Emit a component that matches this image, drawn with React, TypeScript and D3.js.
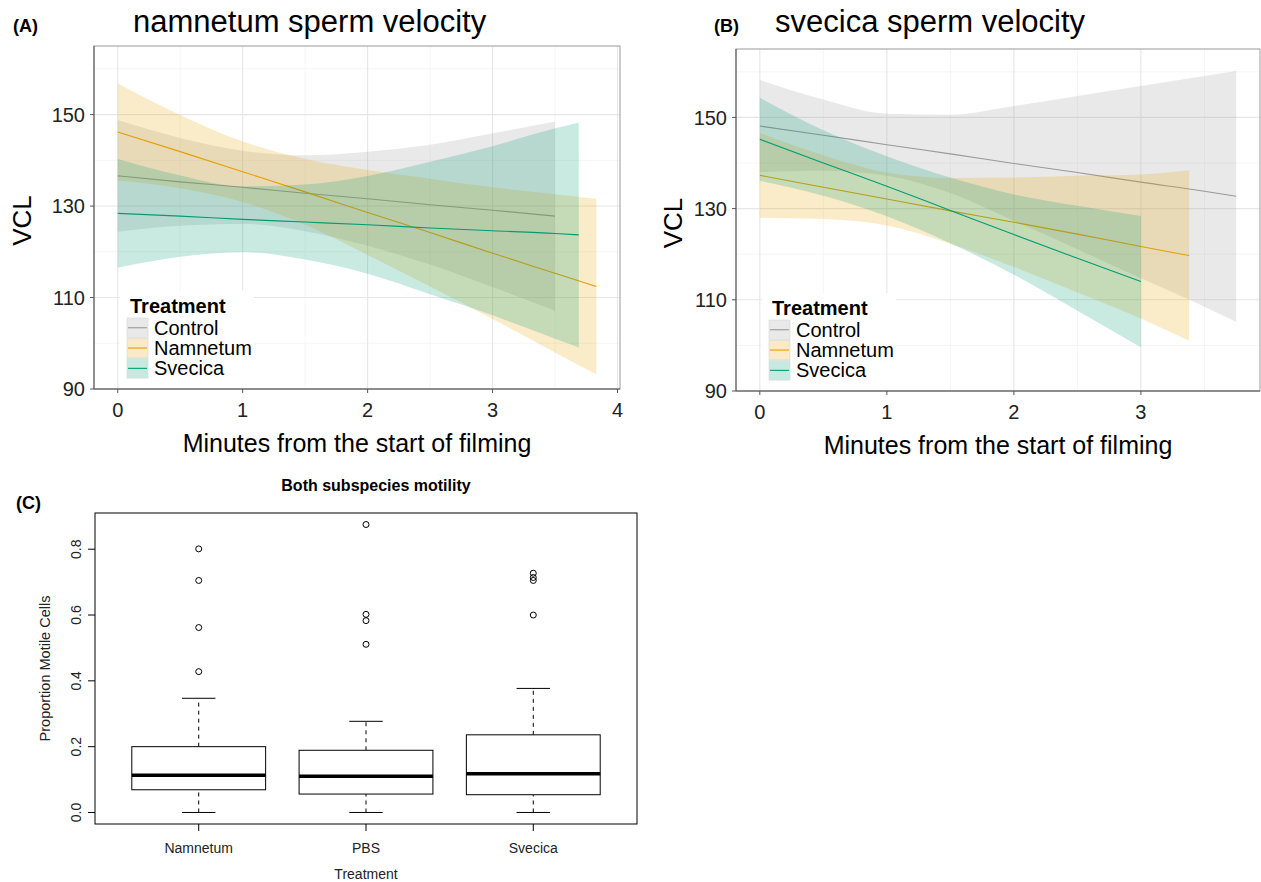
import React from 'react';
import * as d3 from 'd3';

const treatments = ['Control', 'Namnetum', 'Svecica'];
const treatmentColours = ['#999999', '#E69F00', '#009E73'];

// (A) namnetum sperm velocity - fitted VCL and CI band
const minutesA_control = [0, 0.5, 1, 1.5, 2, 2.5, 3, 3.5];
const fitA_control = [136.6, 135.3, 134.1, 132.8, 131.6, 130.3, 129.1, 127.8];
const lowA_control = [124.4, 125.7, 126.1, 124.5, 121.3, 117.2, 112.3, 107.1];
const highA_control = [148.8, 144.9, 142.1, 141.1, 141.9, 143.4, 145.9, 148.5];

const minutesA_namnetum = [0, 0.5, 1, 1.5, 2, 2.5, 3, 3.5, 3.83];
const fitA_namnetum = [146.2, 141.9, 137.5, 133.1, 128.6, 124.2, 119.7, 115.3, 112.4];
const lowA_namnetum = [135.6, 133.9, 130.9, 125.9, 119.3, 112.4, 105.3, 98.0, 93.2];
const highA_namnetum = [156.8, 149.9, 144.1, 140.3, 137.9, 136.0, 134.1, 132.6, 131.6];

const minutesA_svecica = [0, 0.5, 1, 1.5, 2, 2.5, 3, 3.5, 3.69];
const fitA_svecica = [128.4, 127.8, 127.1, 126.5, 125.9, 125.2, 124.6, 124.0, 123.7];
const lowA_svecica = [116.5, 118.9, 119.9, 118.3, 115.2, 110.7, 106.1, 101.0, 99.1];
const highA_svecica = [140.3, 136.7, 134.3, 134.7, 136.6, 139.7, 143.1, 147.0, 148.3];

// (B) svecica sperm velocity
const minutesB_control = [0, 0.5, 1, 1.5, 2, 2.5, 3, 3.5, 3.75];
const fitB_control = [148.1, 146.1, 144.0, 142.0, 139.9, 137.9, 135.8, 133.8, 132.7];
const lowB_control = [138.0, 138.3, 137.2, 133.4, 127.3, 121.1, 114.7, 108.5, 105.2];
const highB_control = [158.2, 153.9, 150.8, 150.6, 152.5, 154.7, 156.9, 159.1, 160.2];

const minutesB_namnetum = [0, 0.5, 1, 1.5, 2, 2.5, 3, 3.38];
const fitB_namnetum = [137.3, 134.7, 132.1, 129.5, 127.0, 124.4, 121.7, 119.7];
const lowB_namnetum = [128.0, 127.7, 126.3, 122.3, 117.2, 111.6, 105.9, 101.0];
const highB_namnetum = [146.6, 141.7, 137.9, 136.7, 136.8, 137.2, 137.5, 138.4];

const minutesB_svecica = [0, 0.5, 1, 1.5, 2, 2.5, 3];
const fitB_svecica = [145.2, 140.0, 134.9, 129.6, 124.3, 119.1, 114.0];
const lowB_svecica = [136.1, 132.8, 128.3, 122.4, 115.5, 107.6, 99.6];
const highB_svecica = [154.3, 147.2, 141.5, 136.8, 133.1, 130.6, 128.4];

const vclMajorTicks = [90, 110, 130, 150];
const vclMinorTicks = [100, 120, 140, 160];

// (C) boxplot stats
const motilityGroups = ['Namnetum', 'PBS', 'Svecica'];
const motilityLowerWhisker = [0, 0, 0];
const motilityQ1 = [0.069, 0.056, 0.054];
const motilityMedian = [0.113, 0.11, 0.118];
const motilityQ3 = [0.2, 0.189, 0.236];
const motilityUpperWhisker = [0.347, 0.277, 0.377];
const motilityOutliers = [
  [0.801, 0.705, 0.562, 0.428],
  [0.875, 0.602, 0.583, 0.511],
  [0.727, 0.714, 0.705, 0.6],
];
const motilityTicks = [0, 0.2, 0.4, 0.6, 0.8];

type Band = { name: string; colour: string; x: number[]; fit: number[]; low: number[]; high: number[] };

const bandsA: Band[] = [
  { name: treatments[0], colour: treatmentColours[0], x: minutesA_control, fit: fitA_control, low: lowA_control, high: highA_control },
  { name: treatments[1], colour: treatmentColours[1], x: minutesA_namnetum, fit: fitA_namnetum, low: lowA_namnetum, high: highA_namnetum },
  { name: treatments[2], colour: treatmentColours[2], x: minutesA_svecica, fit: fitA_svecica, low: lowA_svecica, high: highA_svecica },
];
const bandsB: Band[] = [
  { name: treatments[0], colour: treatmentColours[0], x: minutesB_control, fit: fitB_control, low: lowB_control, high: highB_control },
  { name: treatments[1], colour: treatmentColours[1], x: minutesB_namnetum, fit: fitB_namnetum, low: lowB_namnetum, high: highB_namnetum },
  { name: treatments[2], colour: treatmentColours[2], x: minutesB_svecica, fit: fitB_svecica, low: lowB_svecica, high: highB_svecica },
];

const FONT = '"Liberation Sans", Arial, Helvetica, sans-serif';

const VelocityPanel = ({ tag, tagX, title, titleX, bands, left, right, top, bottom, xDomain, xTicks, vclX }: any) => {
  const x = d3.scaleLinear().domain(xDomain).range([left, right]);
  const y = d3.scaleLinear().domain([90, 165]).range([bottom, top]);
  const minorX = d3.range(0.5, xDomain[1], 1);

  const area = d3.area<number>().curve(d3.curveMonotoneX);
  const line = d3.line<[number, number]>().curve(d3.curveMonotoneX);

  const legL = left + 26;
  const legTop = bottom - 98;

  return (
    <g fontFamily={FONT}>
      <text x={tagX} y={32} fontSize={18} fontWeight="bold">{tag}</text>
      <text x={titleX} y={32} fontSize={31}>{title}</text>

      {/* grid */}
      {vclMinorTicks.map(t => (
        <line key={'ym' + t} x1={left} x2={right} y1={y(t)} y2={y(t)} stroke="#f3f3f3" strokeWidth={0.8} />
      ))}
      {minorX.map(t => (
        <line key={'xm' + t} x1={x(t)} x2={x(t)} y1={top} y2={bottom} stroke="#f3f3f3" strokeWidth={0.8} />
      ))}
      {vclMajorTicks.map(t => (
        <line key={'yM' + t} x1={left} x2={right} y1={y(t)} y2={y(t)} stroke="#e6e6e6" strokeWidth={1.1} />
      ))}
      {xTicks.map((t: number) => (
        <line key={'xM' + t} x1={x(t)} x2={x(t)} y1={top} y2={bottom} stroke="#e6e6e6" strokeWidth={1.1} />
      ))}

      {/* ribbons + fitted lines */}
      {bands.map((b: Band) => {
        const idx = d3.range(b.x.length);
        const ribbon = area
          .x(i => x(b.x[i]))
          .y0(i => y(b.low[i]))
          .y1(i => y(b.high[i]))(idx);
        const fit = line(idx.map(i => [x(b.x[i]), y(b.fit[i])]));
        return (
          <g key={b.name}>
            <path d={ribbon || ''} fill={b.colour} fillOpacity={0.21} stroke="none" />
            <path d={fit || ''} fill="none" stroke={b.colour} strokeWidth={1.1} />
          </g>
        );
      })}

      {/* panel border */}
      <rect x={left} y={top} width={right - left} height={bottom - top} fill="none" stroke="#9a9a9a" strokeWidth={1} />
      <line x1={left} x2={left} y1={top} y2={bottom} stroke="#555" strokeWidth={1} />
      <line x1={left} x2={right} y1={bottom} y2={bottom} stroke="#555" strokeWidth={1} />

      {/* axes */}
      {vclMajorTicks.map(t => (
        <g key={'yt' + t}>
          <line x1={left - 4} x2={left} y1={y(t)} y2={y(t)} stroke="#555" />
          <text x={left - 9} y={y(t)} dy="0.36em" textAnchor="end" fontSize={20} fill="#222">{t}</text>
        </g>
      ))}
      {xTicks.map((t: number) => (
        <g key={'xt' + t}>
          <line x1={x(t)} x2={x(t)} y1={bottom} y2={bottom + 4} stroke="#555" />
          <text x={x(t)} y={bottom + 21} dy="0.36em" textAnchor="middle" fontSize={20} fill="#222">{t}</text>
        </g>
      ))}
      <text x={(left + right) / 2} y={bottom + 54} dy="0.36em" textAnchor="middle" fontSize={25}>Minutes from the start of filming</text>
      <text transform={`translate(${vclX},${(top + bottom) / 2 + 3}) rotate(-90)`} textAnchor="middle" dy="0.36em" fontSize={26}>VCL</text>

      {/* legend */}
      <rect x={legL} y={legTop} width={134} height={bottom - legTop - 1} fill="white" />
      <text x={legL + 10} y={legTop + 22} fontSize={20} fontWeight="bold">Treatment</text>
      {bands.map((b: Band, i: number) => {
        const ky = legTop + 27 + i * 20.3;
        return (
          <g key={'lg' + b.name}>
            <rect x={legL + 7} y={ky} width={21} height={19.5} fill={b.colour} fillOpacity={0.22} stroke="#d8d8d8" strokeWidth={0.6} />
            <line x1={legL + 8} x2={legL + 27} y1={ky + 9.75} y2={ky + 9.75} stroke={b.colour} strokeWidth={1.1} />
            <text x={legL + 34} y={ky + 9.75} dy="0.35em" fontSize={20}>{b.name}</text>
          </g>
        );
      })}
    </g>
  );
};

const MotilityBoxplot = () => {
  const left = 95, right = 637, top = 513, bottom = 824;
  const x = d3.scaleLinear().domain([0.38, 3.62]).range([left, right]);
  const allVals = motilityLowerWhisker.concat(motilityUpperWhisker, ...motilityOutliers);
  const [lo, hi] = d3.extent(allVals) as [number, number];
  const pad = (hi - lo) * 0.04;
  const y = d3.scaleLinear().domain([lo - pad, hi + pad]).range([bottom, top]);
  const boxW = x(1.4) - x(1);
  const capW = boxW / 2;

  return (
    <g fontFamily={FONT}>
      <text x={16} y={509} fontSize={18} fontWeight="bold">(C)</text>
      <text x={376} y={491} textAnchor="middle" fontSize={16} fontWeight="bold">Both subspecies motility</text>

      {motilityGroups.map((g, i) => {
        const cx = x(i + 1);
        return (
          <g key={g} stroke="#000" fill="none">
            <line x1={cx} x2={cx} y1={y(motilityQ3[i])} y2={y(motilityUpperWhisker[i])} strokeDasharray="4,4" strokeWidth={1} />
            <line x1={cx} x2={cx} y1={y(motilityLowerWhisker[i])} y2={y(motilityQ1[i])} strokeDasharray="4,4" strokeWidth={1} />
            <line x1={cx - capW / 2} x2={cx + capW / 2} y1={y(motilityUpperWhisker[i])} y2={y(motilityUpperWhisker[i])} strokeWidth={1} />
            <line x1={cx - capW / 2} x2={cx + capW / 2} y1={y(motilityLowerWhisker[i])} y2={y(motilityLowerWhisker[i])} strokeWidth={1} />
            <rect x={cx - boxW} y={y(motilityQ3[i])} width={boxW * 2} height={y(motilityQ1[i]) - y(motilityQ3[i])} fill="white" strokeWidth={1} />
            <line x1={cx - boxW} x2={cx + boxW} y1={y(motilityMedian[i])} y2={y(motilityMedian[i])} strokeWidth={3.5} />
            {motilityOutliers[i].map((v, j) => (
              <circle key={j} cx={cx} cy={y(v)} r={3} strokeWidth={1} />
            ))}
          </g>
        );
      })}

      <rect x={left} y={top} width={right - left} height={bottom - top} fill="none" stroke="#000" strokeWidth={1} />

      {motilityTicks.map(t => (
        <g key={'ct' + t}>
          <line x1={left - 7} x2={left} y1={y(t)} y2={y(t)} stroke="#000" />
          <text transform={`translate(${left - 19},${y(t)}) rotate(-90)`} textAnchor="middle" dy="0.36em" fontSize={14} fill="#222">{t.toFixed(1)}</text>
        </g>
      ))}
      {motilityGroups.map((g, i) => (
        <g key={'cx' + g}>
          <line x1={x(i + 1)} x2={x(i + 1)} y1={bottom} y2={bottom + 7} stroke="#000" />
          <text x={x(i + 1)} y={848} dy="0.36em" textAnchor="middle" fontSize={14} fill="#222">{g}</text>
        </g>
      ))}
      <text x={(left + right) / 2} y={874} dy="0.36em" textAnchor="middle" fontSize={14} fill="#222">Treatment</text>
      <text transform={`translate(45,${(top + bottom) / 2}) rotate(-90)`} textAnchor="middle" dy="0.36em" fontSize={14.5} fill="#222">Proportion Motile Cells</text>
    </g>
  );
};

export default function App() {
  return (
    <svg width={1261} height={882} style={{ position: 'absolute', left: 0, top: 0, background: 'white' }}>
      <rect width={1261} height={882} fill="white" />
      <VelocityPanel
        tag="(A)" tagX={13} title="namnetum sperm velocity" titleX={133}
        bands={bandsA} left={94} right={620} top={46} bottom={389}
        xDomain={[-0.19, 4.02]} xTicks={[0, 1, 2, 3, 4]} vclX={22}
      />
      <VelocityPanel
        tag="(B)" tagX={714} title="svecica sperm velocity" titleX={775}
        bands={bandsB} left={736} right={1260} top={49} bottom={391}
        xDomain={[-0.1875, 3.9375]} xTicks={[0, 1, 2, 3]} vclX={673}
      />
      <MotilityBoxplot />
    </svg>
  );
}
